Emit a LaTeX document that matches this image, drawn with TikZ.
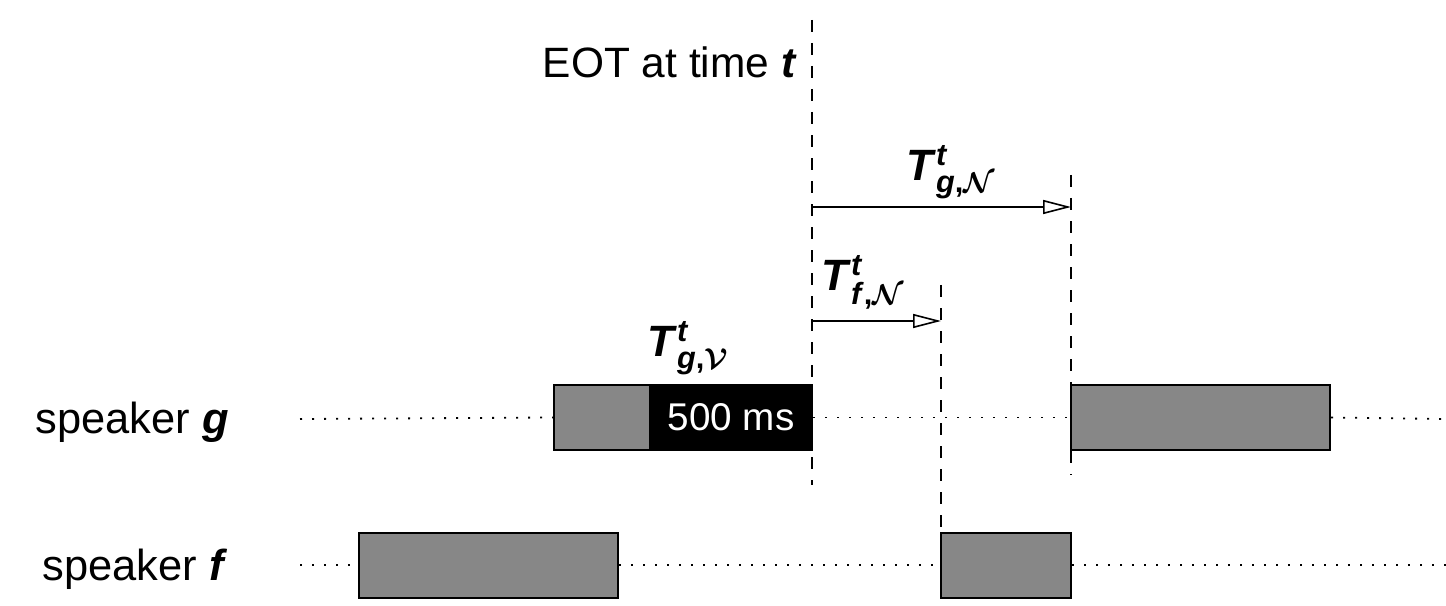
\documentclass[tikz,border=0pt]{standalone}
\usepackage{amsmath,bm}
\usepackage{fontspec}
\setmainfont{Liberation Sans}
\usetikzlibrary{arrows.meta}
\definecolor{boxgray}{RGB}{135,135,135}
\newcommand\bi[1]{\textbf{\textit{#1}}}
\begin{document}
\begin{tikzpicture}[x=0.5bp,y=-0.5bp,
  lbl/.style={font=\fontsize{21.3}{26}\selectfont, inner sep=0pt},
  spk/.style={font=\fontsize{21.8}{26}\selectfont, inner sep=0pt},
  tlbl/.style={font=\fontsize{22}{26}\selectfont, inner sep=0pt},
  seg/.style={draw=black, line width=1bp, inner sep=0pt, minimum height=32.5bp},
  graybox/.style={seg, fill=boxgray},
  blackbox/.style={seg, fill=black, text=white, font=\fontsize{19.4}{24}\selectfont},
  guide/.style={line width=0.9bp, dash pattern=on 6bp off 5.5bp},
  track/.style={line width=0.9bp, dash pattern=on 1bp off 5bp},
  span/.style={line width=0.8bp, -{Triangle[open, length=14bp, width=7bp]}}]
\useasboundingbox (0,0) rectangle (1446,606);
% boxes
\node[graybox, minimum width=48bp] (g1a) at (602,417.5) {};
\node[blackbox, minimum width=81bp] (g1b) at (731,417.5) {500 ms};
\node[graybox, minimum width=129.5bp] (g2) at (1200.5,417.5) {};
\node[graybox, minimum width=129.5bp] (f1) at (488.5,565) {};
\node[graybox, minimum width=65bp] (f2) at (1006,565) {};
% labels
\node[spk, anchor=base] (sg) at (132,433) {speaker \bi{g}};
\node[spk, anchor=base] (sf) at (135,580) {speaker \bi{f}};
\node[lbl, anchor=base east] (eot) at (797,78) {EOT at time \bi{t}};
\node[tlbl] (tgn) at (951,172) {\bi{T}$^{\bi{t}}_{\bi{g}\textbf{,}\bm{\mathcal{N}}}$};
\node[tlbl] (tfn) at (863,282) {\bi{T}$^{\bi{t}}_{\bi{f}\textbf{,}\bm{\mathcal{N}}}$};
\node[tlbl] (tgv) at (688,348) {\bi{T}$^{\bi{t}}_{\bi{g}\textbf{,}\bm{\mathcal{V}}}$};
% coordinates
\coordinate (gs) at (300,419);
\coordinate (ge) at (1446,419);
\coordinate (fs) at (300,565);
\coordinate (fe) at (1446,565);
\coordinate (e1) at (812,20);
\coordinate (e2) at (812,485);
\coordinate (n1) at (1071,175);
\coordinate (n2) at (1071,475);
\coordinate (m1) at (941,285);
\coordinate (m2) at (941,606);
\coordinate (a1) at (812,207);
\coordinate (a2) at (1071,207);
\coordinate (b1) at (812,321);
\coordinate (b2) at (941,321);
% tracks
\draw[track] (gs) -- (g1a.west);
\draw[track] (g1b.east) -- (g2.west);
\draw[track] (g2.east) -- (ge);
\draw[track] (fs) -- (f1.west);
\draw[track] (f1.east) -- (f2.west);
\draw[track] (f2.east) -- (fe);
% guides
\draw[guide] (e1) -- (e2);
\draw[guide] (n1) -- (n2);
\draw[guide] (m1) -- (m2);
% spans
\draw[span] (a1) -- (a2);
\draw[span] (b1) -- (b2);
\end{tikzpicture}
\end{document}
